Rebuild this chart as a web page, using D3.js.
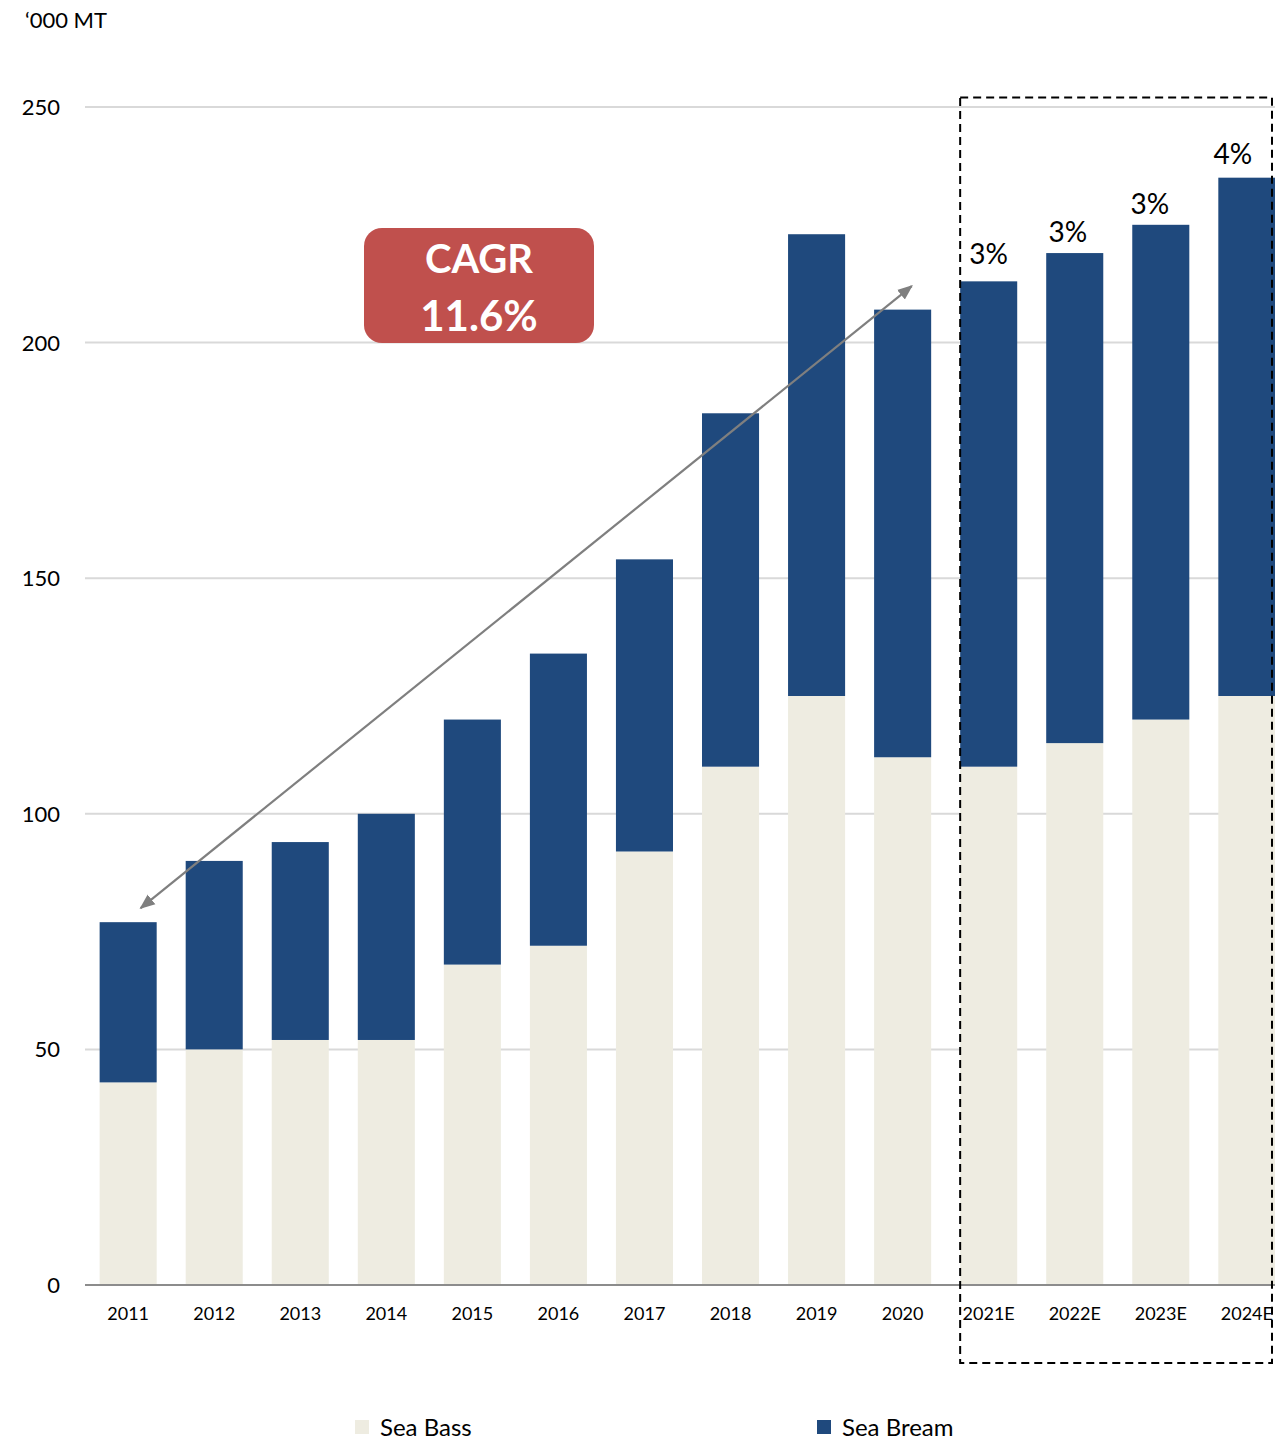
<!DOCTYPE html>
<html>
<head>
<meta charset="utf-8">
<script src="https://cdn.jsdelivr.net/npm/d3@7"></script>
<style>
  body { margin: 0; background: #fff; }
  svg text { font-family: Lato, "Open Sans", sans-serif; }
</style>
</head>
<body>
<svg id="chart" width="1275" height="1442"></svg>
<script>
var years = ['2011', '2012', '2013', '2014', '2015', '2016', '2017', '2018', '2019', '2020', '2021E', '2022E', '2023E', '2024E'];
var seaBass = [43, 50, 52, 52, 68, 72, 92, 110, 125, 112, 110, 115, 120, 125];
var seaBream = [34, 40, 42, 48, 52, 62, 62, 75, 98, 95, 103, 104, 105, 110];
var growth = {'2021E': '3%', '2022E': '3%', '2023E': '3%', '2024E': '4%'};
var yTicks = [0, 50, 100, 150, 200, 250];
var series = ['Sea Bass', 'Sea Bream'];
var colors = {'Sea Bass': '#eeece1', 'Sea Bream': '#1f497d'};

var svg = d3.select('#chart');

var x = d3.scaleBand()
    .domain(years)
    .range([85, 1290])
    .paddingInner(0.337)
    .paddingOuter(0.17);

var y = d3.scaleLinear()
    .domain([0, 250])
    .range([1285, 107]);

// gridlines
svg.append('g').selectAll('line')
    .data(yTicks.filter(function(d) { return d > 0; }))
    .enter().append('line')
    .attr('x1', 85).attr('x2', 1275)
    .attr('y1', function(d) { return y(d); })
    .attr('y2', function(d) { return y(d); })
    .style('stroke', '#d9d9d9')
    .style('stroke-width', 2);

// y tick labels
svg.append('g').selectAll('text')
    .data(yTicks)
    .enter().append('text')
    .attr('x', 60)
    .attr('y', function(d) { return y(d); })
    .attr('dy', '0.36em')
    .attr('text-anchor', 'end')
    .style('font-size', '22px')
    .style('fill', '#000')
    .text(function(d) { return d; });

svg.append('text')
    .attr('x', 25).attr('y', 28)
    .style('font-size', '22px')
    .text('\u2018000 MT');

var rows = years.map(function(yr, i) {
    return {year: yr, 'Sea Bass': seaBass[i], 'Sea Bream': seaBream[i]};
});
var stacked = d3.stack().keys(series)(rows);

svg.append('g').selectAll('g')
    .data(stacked)
    .enter().append('g')
    .style('fill', function(d) { return colors[d.key]; })
    .selectAll('rect')
    .data(function(d) { return d; })
    .enter().append('rect')
    .attr('x', function(d) { return x(d.data.year); })
    .attr('width', x.bandwidth())
    .attr('y', function(d) { return y(d[1]); })
    .attr('height', function(d) { return y(d[0]) - y(d[1]); });

// axis line
svg.append('line')
    .attr('x1', 85).attr('x2', 1275)
    .attr('y1', y(0)).attr('y2', y(0))
    .style('stroke', '#8c8c8c')
    .style('stroke-width', 2);

// x labels
svg.append('g').selectAll('text')
    .data(years)
    .enter().append('text')
    .attr('x', function(d) { return x(d) + x.bandwidth() / 2; })
    .attr('y', 1320)
    .attr('text-anchor', 'middle')
    .style('font-size', '18px')
    .text(function(d) { return d; });

// growth labels (hand-placed in the original, so nudge a little)
var nudge = {'2021E': [0, 17], '2022E': [-7, 11], '2023E': [-11, 11], '2024E': [-14, 14]};
svg.append('g').selectAll('text')
    .data(rows.filter(function(d) { return growth[d.year]; }))
    .enter().append('text')
    .attr('x', function(d) { return x(d.year) + x.bandwidth() / 2 + nudge[d.year][0]; })
    .attr('y', function(d) { return y(d['Sea Bass'] + d['Sea Bream']) - nudge[d.year][1]; })
    .attr('text-anchor', 'middle')
    .style('font-size', '28px')
    .text(function(d) { return growth[d.year]; });

// dashed forecast box
svg.append('rect')
    .attr('x', x('2021E'))
    .attr('y', y(252))
    .attr('width', 1272 - x('2021E'))
    .attr('height', 1363 - y(252))
    .style('fill', 'none')
    .style('stroke', '#000')
    .style('stroke-width', 2)
    .style('stroke-dasharray', '8,5');

// CAGR arrow
var defs = svg.append('defs');
['start', 'end'].forEach(function(k) {
    defs.append('marker')
        .attr('id', 'arr-' + k)
        .attr('viewBox', '0 0 10 10')
        .attr('refX', 9).attr('refY', 5)
        .attr('markerWidth', 7).attr('markerHeight', 7)
        .attr('markerUnits', 'strokeWidth')
        .attr('orient', k === 'start' ? 'auto-start-reverse' : 'auto')
        .append('path')
        .attr('d', 'M0,1 L10,5 L0,9 z')
        .style('fill', '#7f7f7f');
});

svg.append('line')
    .attr('x1', x('2011') + x.bandwidth() * 0.72)
    .attr('y1', y(80))
    .attr('x2', x('2020') + x.bandwidth() * 0.66)
    .attr('y2', y(212))
    .style('stroke', '#7f7f7f')
    .style('stroke-width', 2.2)
    .attr('marker-start', 'url(#arr-start)')
    .attr('marker-end', 'url(#arr-end)');

var cagr = svg.append('g');
cagr.append('rect')
    .attr('x', 364).attr('y', 228)
    .attr('width', 230).attr('height', 115)
    .attr('rx', 18)
    .style('fill', '#c0504d');
cagr.append('text')
    .attr('x', 479).attr('y', 273)
    .attr('text-anchor', 'middle')
    .style('font-size', '40px').style('font-weight', 'bold')
    .style('fill', '#fff')
    .text('CAGR');
cagr.append('text')
    .attr('x', 479).attr('y', 331)
    .attr('text-anchor', 'middle')
    .style('font-size', '42px').style('font-weight', 'bold')
    .style('fill', '#fff')
    .text('11.6%');

// legend
var legendX = {'Sea Bass': 355, 'Sea Bream': 817};
var legend = svg.append('g').selectAll('g')
    .data(series)
    .enter().append('g')
    .attr('transform', function(d) { return 'translate(' + legendX[d] + ',1420)'; });
legend.append('rect')
    .attr('width', 14).attr('height', 14)
    .style('fill', function(d) { return colors[d]; });
legend.append('text')
    .attr('x', 25).attr('y', 16)
    .style('font-size', '24px')
    .text(function(d) { return d; });
</script>
</body>
</html>
